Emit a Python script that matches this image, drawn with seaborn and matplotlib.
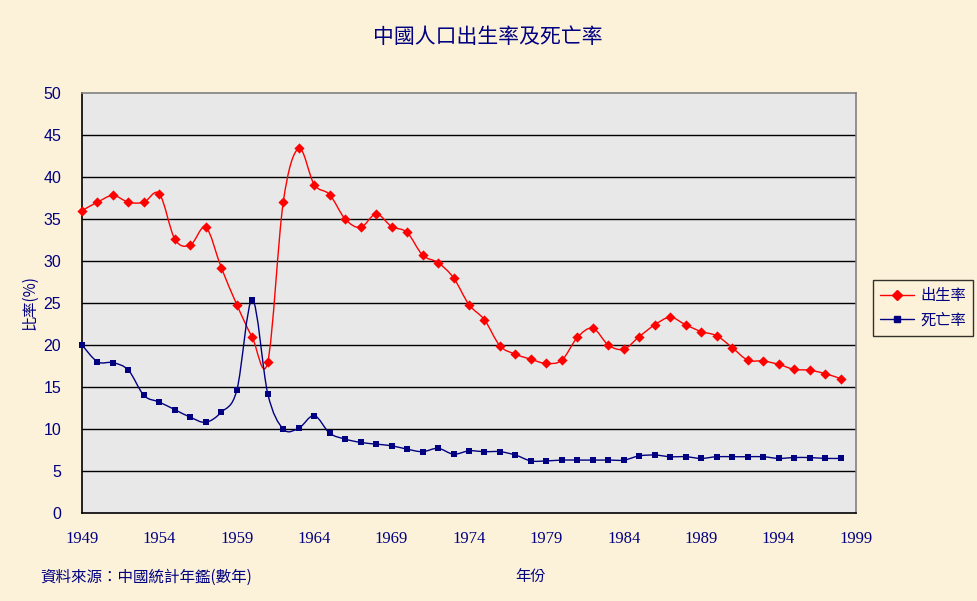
import numpy as np
import pandas as pd
import matplotlib
matplotlib.use("Agg")
import matplotlib.pyplot as plt
from matplotlib.path import Path
from matplotlib.patches import PathPatch
from matplotlib.lines import Line2D
import seaborn as sns

years = list(range(1949, 1999))
birth_rate = [36.0, 37.0, 37.8, 37.0, 37.0, 38.0, 32.6, 31.9, 34.0, 29.2,
              24.8, 20.9, 18.0, 37.0, 43.4, 39.1, 37.9, 35.0, 34.0, 35.6,
              34.1, 33.4, 30.7, 29.8, 28.0, 24.8, 23.0, 19.9, 18.9, 18.3,
              17.8, 18.2, 20.9, 22.0, 20.0, 19.5, 21.0, 22.4, 23.3, 22.4,
              21.6, 21.1, 19.7, 18.2, 18.1, 17.7, 17.1, 17.0, 16.6, 16.0]
death_rate = [20.0, 18.0, 17.9, 17.0, 14.0, 13.2, 12.3, 11.4, 10.8, 12.0,
              14.6, 25.4, 14.2, 10.0, 10.1, 11.6, 9.5, 8.8, 8.4, 8.2,
              8.0, 7.6, 7.3, 7.7, 7.0, 7.4, 7.3, 7.3, 6.9, 6.2,
              6.2, 6.3, 6.3, 6.3, 6.3, 6.3, 6.8, 6.9, 6.7, 6.7,
              6.5, 6.7, 6.7, 6.7, 6.7, 6.5, 6.6, 6.6, 6.5, 6.5]
series_names = ["出生率", "死亡率"]
series_colors = ["#FF0000", "#000080"]
x_ticks = list(range(1949, 2000, 5))
y_ticks = list(range(0, 51, 5))
title = "中國人口出生率及死亡率"
y_label = "比率(%)"
x_label = "年份"
source = "資料來源：中國統計年鑑(數年)"

df = pd.DataFrame({"year": years * 2,
                   "value": birth_rate + death_rate,
                   "series": [series_names[0]] * len(years) + [series_names[1]] * len(years)})

sns.set_style("white")
cjk = ["Noto Sans CJK TC", "DejaVu Sans"]
plt.rcParams["font.family"] = cjk

navy = "#000080"
fig = plt.figure(figsize=(9.77, 6.01), dpi=100, facecolor="#FCF2DA")
ax = fig.add_axes([82 / 977, 1 - 513 / 601, (856 - 82) / 977, (513 - 93) / 601])
ax.set_facecolor("#E8E8E8")


def smooth_path(xs, ys):
    xs = np.asarray(xs, float)
    ys = np.asarray(ys, float)
    n = len(xs)
    verts = [(xs[0], ys[0])]
    codes = [Path.MOVETO]
    for i in range(n - 1):
        p0 = (xs[max(i - 1, 0)], ys[max(i - 1, 0)])
        p1 = (xs[i], ys[i])
        p2 = (xs[i + 1], ys[i + 1])
        p3 = (xs[min(i + 2, n - 1)], ys[min(i + 2, n - 1)])
        c1 = (p1[0] + (p2[0] - p0[0]) / 6, p1[1] + (p2[1] - p0[1]) / 6)
        c2 = (p2[0] - (p3[0] - p1[0]) / 6, p2[1] - (p3[1] - p1[1]) / 6)
        verts += [c1, c2, p2]
        codes += [Path.CURVE4] * 3
    return Path(verts, codes)


for y in y_ticks[1:-1]:
    ax.axhline(y, color="black", lw=1.0, zorder=1)

marker_sizes = [5.2, 5.0]
for name, col, mk, ms in zip(series_names, series_colors, ["D", "s"], marker_sizes):
    sub = df[df["series"] == name]
    ax.add_patch(PathPatch(smooth_path(sub["year"], sub["value"]), facecolor="none",
                           edgecolor=col, lw=1.0, zorder=3))
    sns.scatterplot(data=sub, x="year", y="value", ax=ax, color=col, marker=mk,
                    s=ms ** 2, edgecolor=col, linewidth=0, zorder=4, legend=False,
                    clip_on=False)

ax.set_xlim(1949, 1999)
ax.set_ylim(0, 50)
ax.set_xticks(x_ticks)
ax.set_yticks(y_ticks)
ax.set_xticklabels([str(v) for v in x_ticks], fontsize=12, color=navy,
                   fontfamily=["Liberation Serif"])
ax.set_yticklabels([str(v) for v in y_ticks], fontsize=11.5, color=navy,
                   fontfamily=["Liberation Sans"])
ax.tick_params(axis="x", direction="in", length=6, width=1, color="black", pad=13)
ax.tick_params(axis="y", length=0, pad=15)
for lab in ax.get_yticklabels():
    lab.set_horizontalalignment("right")

ax.set_xlabel("")
ax.set_ylabel("")
for side in ["left", "bottom"]:
    ax.spines[side].set_color("black")
    ax.spines[side].set_linewidth(1.2)
for side in ["top", "right"]:
    ax.spines[side].set_color("#808080")
    ax.spines[side].set_linewidth(1.2)
    ax.spines[side].set_visible(True)

fig.text(488 / 977, 1 - 37 / 601, title, ha="center", va="center", fontsize=15, color=navy)
fig.text(30 / 977, 1 - 303 / 601, y_label, ha="center", va="center", fontsize=11,
         color=navy, rotation=90)
fig.text(530 / 977, 1 - 577 / 601, x_label, ha="center", va="center", fontsize=11, color=navy)
fig.text(40 / 977, 1 - 577 / 601, source, ha="left", va="center", fontsize=11.2, color=navy)

handles = [Line2D([0], [0], color=series_colors[0], lw=1.0, marker="D", markersize=marker_sizes[0]),
           Line2D([0], [0], color=series_colors[1], lw=1.0, marker="s", markersize=marker_sizes[1])]
leg = fig.legend(handles, series_names, loc="center", bbox_to_anchor=(923 / 977, 1 - 308 / 601),
                 frameon=True, fancybox=False, fontsize=11, handlelength=2.2,
                 handletextpad=0.4, borderpad=0.5, labelspacing=0.5, borderaxespad=0)
leg.get_frame().set_edgecolor("black")
leg.get_frame().set_linewidth(1.0)
leg.get_frame().set_facecolor("#FCF2DA")
for t in leg.get_texts():
    t.set_color(navy)

fig.savefig("out.png", dpi=100, facecolor=fig.get_facecolor())
